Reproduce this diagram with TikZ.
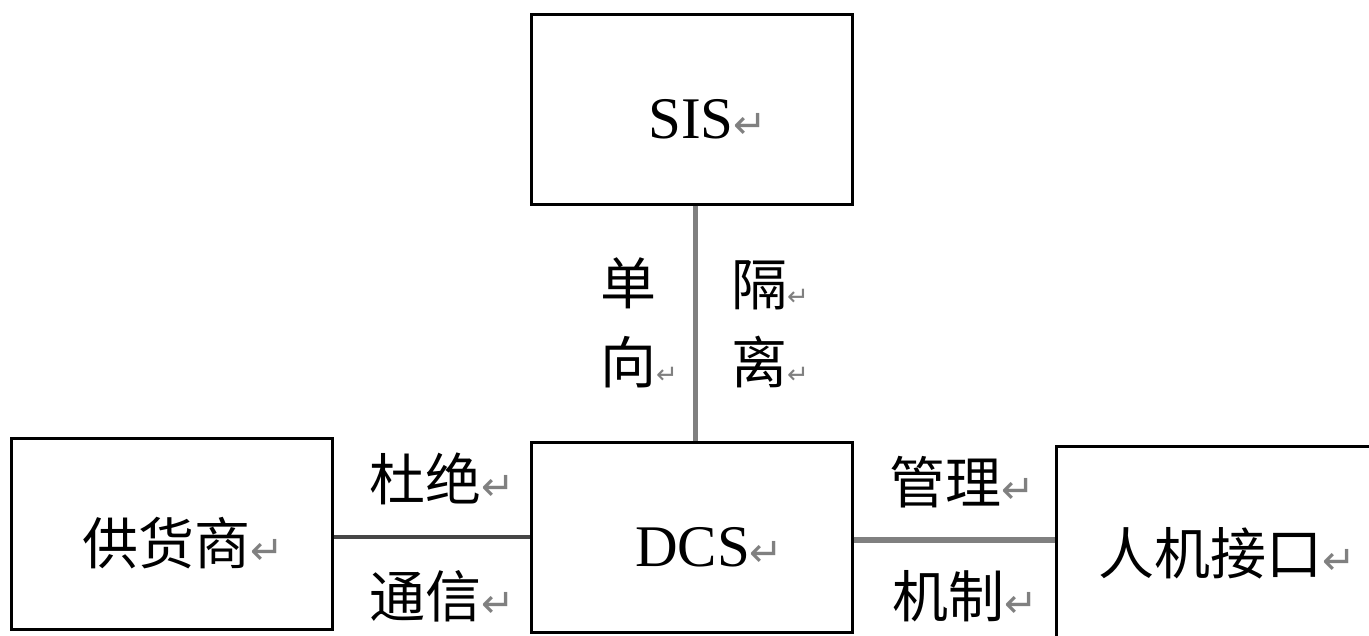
\documentclass[tikz,border=0pt]{standalone}
\usepackage{fontspec}
\setmainfont{Liberation Serif}
\newfontfamily\cjk{Noto Sans CJK SC}
\newfontfamily\symfont{DejaVu Sans}
\definecolor{pmgray}{RGB}{128,128,128}
\definecolor{lineg}{RGB}{128,128,128}
\definecolor{lined}{RGB}{70,70,70}
\newcommand{\pmark}{{\symfont\fontsize{40}{40}\selectfont\textcolor{pmgray}{↵}}}
\newcommand{\smark}{{\symfont\fontsize{26}{26}\selectfont\textcolor{pmgray}{↵}}}
\begin{document}
\begin{tikzpicture}[x=1pt,y=-1pt,
  box/.style={draw=black,line width=3pt,fill=white,inner sep=0pt},
  conn/.style={draw=lineg,line width=5pt},
  cjklab/.style={inner sep=0pt,anchor=west,font=\cjk\fontsize{56}{58}\selectfont},
  latlab/.style={inner sep=0pt,anchor=base west,font=\fontsize{59}{60}\selectfont}]
\useasboundingbox[fill=white] (0,0) rectangle (1369,635);
% boxes
\node[box,minimum width=321pt,minimum height=190pt] (sis) at (691.5,109) {};
\node[box,minimum width=321pt,minimum height=190pt] (dcs) at (691.5,537) {};
\node[box,minimum width=321pt,minimum height=191pt] (sup) at (171.5,533.5) {};
\node[box,minimum width=400pt,minimum height=300pt] (hmi) at (1256,596) {};
% connectors
\draw[conn] ([xshift=3.5pt]sis.south) -- ([xshift=3.5pt]dcs.north);
\draw[draw=lined,line width=4pt] (dcs.west) -- (dcs.west -| sup.east);
\draw[conn,line width=6pt] ([yshift=-3pt]dcs.east) -- ([yshift=-3pt]dcs.east -| hmi.west);
% texts
\node[latlab] (tsis) at (648,138) {SIS\pmark};
\node[latlab] (tdcs) at (635,566) {DCS\pmark};
\node[cjklab] (tsup) at (82,543) {供货商\pmark};
\node[cjklab] (thmi) at (1098,553) {人机接口\pmark};
\node[cjklab] (t1) at (600,283) {单};
\node[cjklab] (t2) at (600,362) {向\smark};
\node[cjklab] (t3) at (731,285) {隔\smark};
\node[cjklab] (t4) at (731,362) {离\smark};
\node[cjklab] (t5) at (369,479) {杜绝\pmark};
\node[cjklab] (t6) at (369,596) {通信\pmark};
\node[cjklab] (t7) at (889,482) {管理\pmark};
\node[cjklab] (t8) at (892,596) {机制\pmark};
\end{tikzpicture}
\end{document}
